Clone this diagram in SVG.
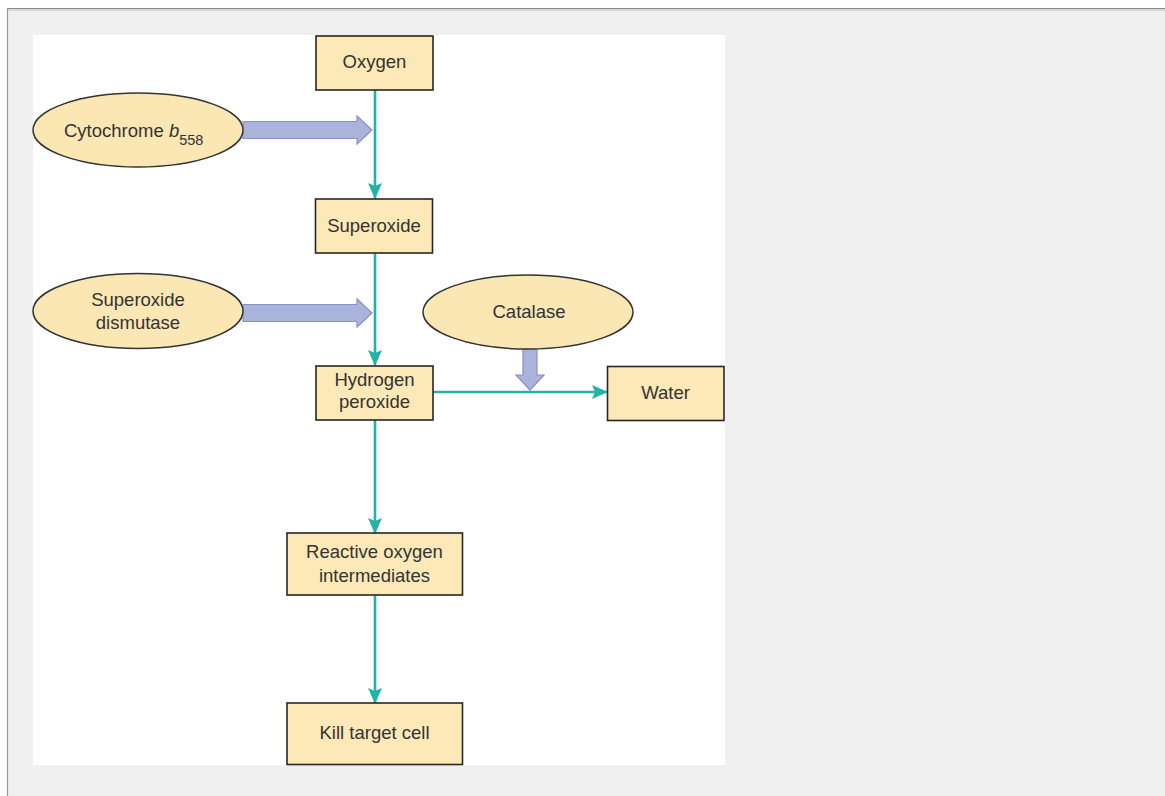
<svg xmlns="http://www.w3.org/2000/svg" width="1165" height="796" viewBox="0 0 1165 796">
<defs>
<style>
.box{fill:#fce9b7;stroke:#262626;stroke-width:1.6}
.ell{fill:#fbe7b3;stroke:#333;stroke-width:1.5}
.t{font-family:"Liberation Sans",Arial,sans-serif;font-size:18.5px;fill:#333;text-anchor:middle}
.ts{text-anchor:start}
.flow{fill:none;stroke:#22b3a6;stroke-width:2.6}
.big{fill:#aab3da;stroke:#8792c6;stroke-width:1.2}
</style>
<marker id="ah" markerUnits="userSpaceOnUse" markerWidth="16" markerHeight="14" viewBox="0 0 16 14" refX="15" refY="7" orient="auto">
<path d="M0,0 L16,7 L0,14 L3,7 Z" fill="#22b3a6"/>
</marker>
</defs>
<rect x="0" y="0" width="1165" height="796" fill="#ffffff"/>
<rect x="7" y="8" width="1158" height="788" fill="#f0f0f0"/>
<line x1="7" y1="8.5" x2="1165" y2="8.5" stroke="#8a8a8a" stroke-width="1.2"/>
<line x1="7.5" y1="8" x2="7.5" y2="796" stroke="#9a9a9a" stroke-width="1.2"/>
<line x1="8" y1="10" x2="1165" y2="10" stroke="#d8d8d8" stroke-width="2"/>
<rect x="33" y="35" width="692" height="730" fill="#ffffff"/>

<g id="connectors">
<path class="flow" d="M375,90 V198" marker-end="url(#ah)"/>
<path class="flow" d="M375,253 V365" marker-end="url(#ah)"/>
<path class="flow" d="M375,420 V533" marker-end="url(#ah)"/>
<path class="flow" d="M375,595 V703" marker-end="url(#ah)"/>
<path class="flow" d="M433,392 H607" marker-end="url(#ah)"/>
<polygon class="big" points="243,121.5 357,121.5 357,116 372,130 357,144 357,138.5 243,138.5"/>
<polygon class="big" points="243,304.5 357,304.5 357,299 372,313 357,327 357,321.5 243,321.5"/>
<polygon class="big" points="523,349 537,349 537,375 544,375 530,390 516,375 523,375"/>
</g>

<g id="oxygen">
<rect class="box" x="316" y="36" width="117" height="54"/>
<text class="t" x="374.5" y="68">Oxygen</text>
</g>
<g id="cytochrome">
<ellipse class="ell" cx="138" cy="130" rx="105" ry="37"/>
<text class="t ts" x="64" y="137">Cytochrome <tspan font-style="italic">b</tspan><tspan font-size="14.5" dy="8">558</tspan></text>
</g>
<g id="superoxide">
<rect class="box" x="315.5" y="199" width="117" height="54"/>
<text class="t" x="374" y="232">Superoxide</text>
</g>
<g id="sod">
<ellipse class="ell" cx="138" cy="311" rx="105" ry="37.5"/>
<text class="t" x="138" y="306">Superoxide</text>
<text class="t" x="138" y="329">dismutase</text>
</g>
<g id="catalase">
<ellipse class="ell" cx="528" cy="312" rx="105" ry="37"/>
<text class="t" x="529" y="318">Catalase</text>
</g>
<g id="hydrogen-peroxide">
<rect class="box" x="316" y="366" width="117" height="54"/>
<text class="t" x="374.5" y="386">Hydrogen</text>
<text class="t" x="374.5" y="408">peroxide</text>
</g>
<g id="water">
<rect class="box" x="607.5" y="366.5" width="116.5" height="54"/>
<text class="t" x="665.5" y="399">Water</text>
</g>
<g id="roi">
<rect class="box" x="287" y="533" width="175.5" height="62"/>
<text class="t" x="374.5" y="558">Reactive oxygen</text>
<text class="t" x="374.5" y="582">intermediates</text>
</g>
<g id="kill">
<rect class="box" x="287" y="703" width="175.5" height="61.5"/>
<text class="t" x="374.5" y="739">Kill target cell</text>
</g>
</svg>
